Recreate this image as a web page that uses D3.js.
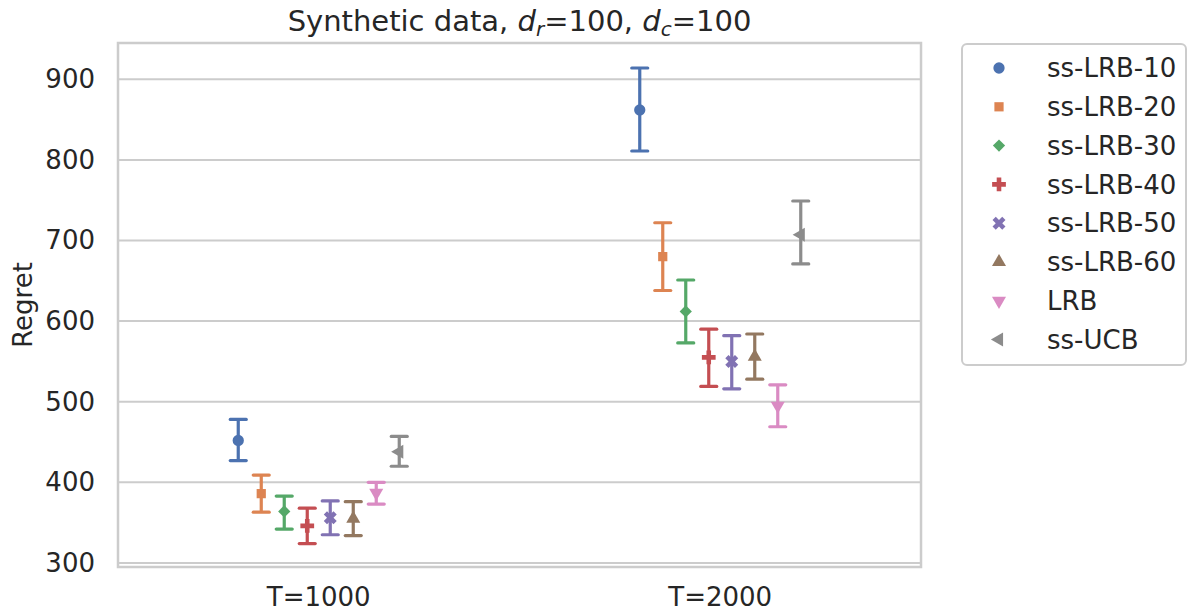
<!DOCTYPE html>
<html>
<head>
<meta charset="utf-8">
<script src="https://cdn.jsdelivr.net/npm/d3@7"></script>
<style>
  html, body { margin: 0; padding: 0; background: #fff; }
  svg { display: block; font-family: "DejaVu Sans", sans-serif; }
</style>
</head>
<body>
<svg id="chart" width="1188" height="615"></svg>
<script>
const categories = ["T=1000", "T=2000"];
const seriesNames = ["ss-LRB-10", "ss-LRB-20", "ss-LRB-30", "ss-LRB-40", "ss-LRB-50", "ss-LRB-60", "LRB", "ss-UCB"];
// mean values per series, per category
const meanT1000 = [452, 386, 364, 346, 356, 355, 387, 438];
const meanT2000 = [862, 680, 612, 555, 550, 556, 495, 707];
// error bar lower / upper
const lowT1000 = [427, 363, 342, 324, 335, 334, 373, 420];
const highT1000 = [478, 409, 383, 368, 377, 376, 400, 457];
const lowT2000 = [811, 638, 573, 519, 516, 528, 469, 671];
const highT2000 = [914, 722, 651, 590, 582, 584, 521, 749];
const yTicks = [300, 400, 500, 600, 700, 800, 900];
const colors = ["#4c72b0", "#dd8452", "#55a868", "#c44e52", "#8172b3", "#937860", "#da8bc3", "#8c8c8c"];
const markers = ["circle", "square", "diamond", "plus", "x", "triUp", "triDown", "triLeft"];

const svg = d3.select("#chart");
const L = 118, R = 921, T = 43, B = 567;
const textColor = "#262626";
const gridColor = "#cccccc";
const fs = "26px";

const x = d3.scaleBand().domain(categories).range([L, R]).paddingInner(0).paddingOuter(0);
const dodge = d3.scalePoint().domain(seriesNames).range([-80.5, 80.5]);
const y = d3.scaleLinear().domain([295, 945]).range([B, T]);

// grid
svg.append("g").selectAll("line").data(yTicks).join("line")
  .attr("x1", L).attr("x2", R)
  .attr("y1", d => y(d)).attr("y2", d => y(d))
  .attr("stroke", gridColor).attr("stroke-width", 2);

// frame
svg.append("rect").attr("x", L).attr("y", T).attr("width", R - L).attr("height", B - T)
  .attr("fill", "none").attr("stroke", gridColor).attr("stroke-width", 2.5);

// y axis
const yAxis = d3.axisLeft(y).tickValues(yTicks).tickSize(0).tickPadding(23);
const gy = svg.append("g").attr("transform", `translate(${L},0)`).call(yAxis);
gy.select(".domain").remove();
gy.selectAll("text").attr("fill", textColor).style("font-size", fs).style("font-family", "DejaVu Sans");

// x axis
const xAxis = d3.axisBottom(x).tickSize(0).tickPadding(21);
const gx = svg.append("g").attr("transform", `translate(0,${B})`).call(xAxis);
gx.select(".domain").remove();
gx.selectAll("text").attr("fill", textColor).style("font-size", fs).style("font-family", "DejaVu Sans");

// y label
svg.append("text").attr("transform", `translate(32,${(T + B) / 2}) rotate(-90)`)
  .attr("text-anchor", "middle").attr("fill", textColor).style("font-size", fs).text("Regret");

// title
const title = svg.append("text").attr("x", (L + R) / 2).attr("y", 31).attr("text-anchor", "middle")
  .attr("fill", textColor).style("font-size", "29px");
title.append("tspan").text("Synthetic data, ");
title.append("tspan").attr("font-style", "italic").text("d");
title.append("tspan").attr("font-style", "italic").attr("dy", 5).style("font-size", "20px").text("r");
title.append("tspan").attr("dy", -5).text("=100, ");
title.append("tspan").attr("font-style", "italic").text("d");
title.append("tspan").attr("font-style", "italic").attr("dy", 5).style("font-size", "20px").text("c");
title.append("tspan").attr("dy", -5).text("=100");

function markerPath(kind, s) {
  switch (kind) {
    case "circle": return { d: d3.symbol(d3.symbolCircle, s)(), rot: 0 };
    case "square": return { d: d3.symbol(d3.symbolSquare, s * 0.85)(), rot: 0 };
    case "diamond": return { d: d3.symbol(d3.symbolSquare, s * 0.75)(), rot: 45 };
    case "plus": return { d: d3.symbol(d3.symbolCross, s * 1.05)(), rot: 0 };
    case "x": return { d: d3.symbol(d3.symbolCross, s * 1.05)(), rot: 45 };
    case "triUp": return { d: d3.symbol(d3.symbolTriangle, s * 0.85)(), rot: 0 };
    case "triDown": return { d: d3.symbol(d3.symbolTriangle, s * 0.85)(), rot: 180 };
    case "triLeft": return { d: d3.symbol(d3.symbolTriangle, s * 0.85)(), rot: -90 };
  }
}

const rows = [];
seriesNames.forEach((s, i) => {
  rows.push({ s, i, cat: categories[0], mean: meanT1000[i], lo: lowT1000[i], hi: highT1000[i] });
  rows.push({ s, i, cat: categories[1], mean: meanT2000[i], lo: lowT2000[i], hi: highT2000[i] });
});
const cx = d => x(d.cat) + x.bandwidth() / 2 + dodge(d.s);
const capW = 8;

const g = svg.append("g");
const eg = g.selectAll("g.pt").data(rows).join("g").attr("class", "pt");
eg.append("line").attr("x1", cx).attr("x2", cx).attr("y1", d => y(d.lo)).attr("y2", d => y(d.hi))
  .attr("stroke", d => colors[d.i]).attr("stroke-width", 3.2);
eg.append("line").attr("x1", d => cx(d) - capW).attr("x2", d => cx(d) + capW)
  .attr("y1", d => y(d.lo)).attr("y2", d => y(d.lo))
  .attr("stroke", d => colors[d.i]).attr("stroke-width", 3.2).attr("stroke-linecap", "round");
eg.append("line").attr("x1", d => cx(d) - capW).attr("x2", d => cx(d) + capW)
  .attr("y1", d => y(d.hi)).attr("y2", d => y(d.hi))
  .attr("stroke", d => colors[d.i]).attr("stroke-width", 3.2).attr("stroke-linecap", "round");
eg.append("path").each(function (d) {
  const m = markerPath(markers[d.i], 100);
  d3.select(this).attr("d", m.d)
    .attr("transform", `translate(${cx(d)},${y(d.mean)}) rotate(${m.rot})`)
    .attr("fill", colors[d.i]);
});

// legend
const lx = 962, ly = 44, lw = 224, lh = 321;
svg.append("rect").attr("x", lx).attr("y", ly).attr("width", lw).attr("height", lh)
  .attr("rx", 5).attr("fill", "#fff").attr("stroke", gridColor).attr("stroke-width", 2);
const lg = svg.append("g").selectAll("g").data(seriesNames).join("g")
  .attr("transform", (d, i) => `translate(999,${68 + i * 38.8})`);
lg.append("path").each(function (d, i) {
  const m = markerPath(markers[i], 100);
  d3.select(this).attr("d", m.d).attr("transform", `rotate(${m.rot})`).attr("fill", colors[i]);
});
lg.append("text").attr("x", 48).attr("y", 0).attr("dy", "0.35em").attr("fill", textColor)
  .style("font-size", fs).text(d => d);
</script>
</body>
</html>
